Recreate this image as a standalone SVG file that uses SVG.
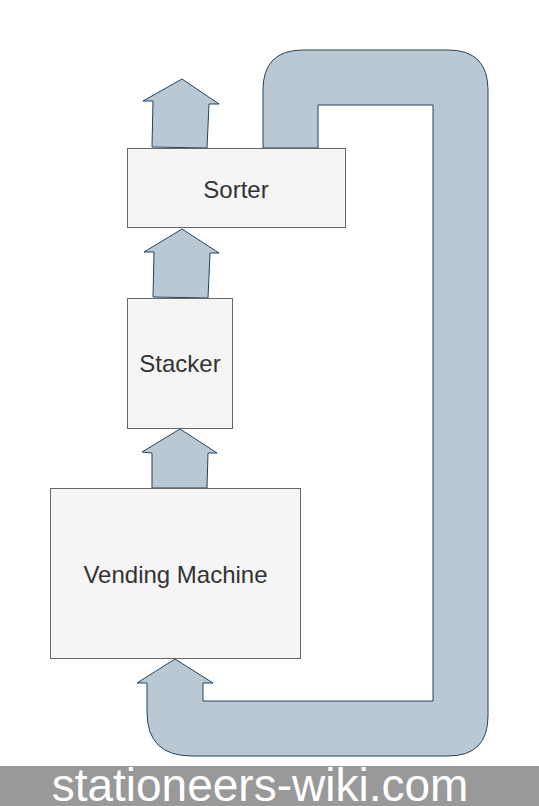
<svg xmlns="http://www.w3.org/2000/svg" width="539" height="806" viewBox="0 0 539 806">
<style>
.box{fill:#f5f5f5;stroke:#666666;stroke-width:1}
.arr{fill:#bac8d3;stroke:#23445d;stroke-width:1;stroke-linejoin:miter}
.lbl{font-family:"Liberation Sans",Arial,sans-serif;font-size:24px;fill:#333333;text-anchor:middle}
.foot{font-family:"Liberation Sans",Arial,sans-serif;font-size:46px;fill:#ffffff;text-anchor:middle}
</style>
<rect width="539" height="806" fill="#ffffff"/>
<g id="connectors">
<path class="arr" d="M143,101 L182,79 L219,104 L209,104 L207,148 L152,147 L153,101 Z"/>
<path class="arr" d="M144,252 L182,229 L219,253 L210,253 L208,298 L153,297 L154,252 Z"/>
<path class="arr" d="M142,452 L180,429 L217,453 L208,453 L207,488 L152,488 L152,453 Z"/>
<path class="arr" d="M263,148 L263,90 Q263,50 303,50 L448,50 Q488,50 488,90 L488,716 Q488,756 448,756 L192,756 Q147,756 147,712 L147,683 L137,683 L175,659 L213,683 L203,683 L203,701 L433,701 L433,105 L318,105 L318,148 Z"/>
</g>
<g id="sorter">
<rect class="box" x="127.5" y="148.5" width="218" height="79"/>
<text class="lbl" x="236" y="198">Sorter</text>
</g>
<g id="stacker">
<rect class="box" x="127.5" y="298.5" width="105" height="130"/>
<text class="lbl" x="180" y="372">Stacker</text>
</g>
<g id="vending-machine">
<rect class="box" x="50.5" y="488.5" width="250" height="170"/>
<text class="lbl" x="175.5" y="583">Vending Machine</text>
</g>
<g id="footer">
<rect x="0" y="766" width="539" height="40" fill="#999999"/>
<text class="foot" x="260" y="801">stationeers-wiki.com</text>
</g>
</svg>
